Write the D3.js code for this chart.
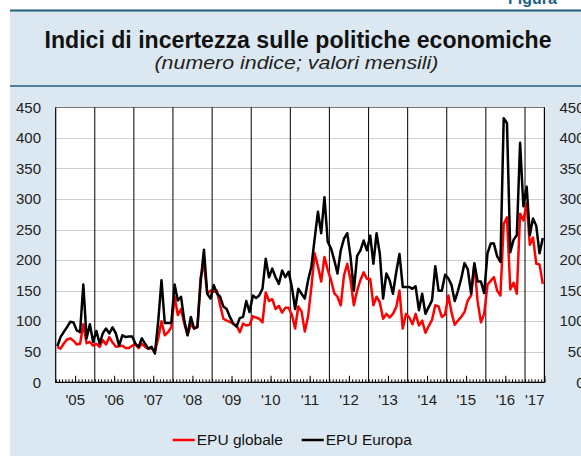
<!DOCTYPE html>
<html>
<head>
<meta charset="utf-8">
<script src="https://cdn.jsdelivr.net/npm/d3@7"></script>
<style>
  body { margin: 0; background: #fff; }
  svg { display: block; font-family: "Liberation Sans", Arial, sans-serif; }
</style>
</head>
<body>
<div id="chart"></div>
<script>
// year labels on the x axis
var yearLabels = ["'05", "'06", "'07", "'08", "'09", "'10", "'11", "'12", "'13", "'14", "'15", "'16", "'17"];

// monthly values, Jan 2005 - Jun 2017
var epuGlobale = [
  58, 55, 63, 70, 72, 68, 62, 63, 95, 64, 66, 60,
  63, 58, 69, 62, 74, 65, 58, 59, 60, 56, 56, 60,
  62, 56, 63, 58, 55, 56, 50, 72, 100, 77, 82, 90,
  140, 110, 120, 96, 77, 95, 88, 90, 172, 195, 145, 150,
  148, 150, 126, 104, 101, 99, 96, 93, 82, 96, 93, 94,
  108, 106, 104, 98, 147, 133, 136, 120, 125, 114, 122, 122,
  110, 88, 124, 116, 83, 108, 155, 211, 190, 165, 205, 184,
  167, 146, 140, 126, 175, 194, 167, 126, 150, 167, 180, 169,
  169, 126, 140, 131, 104, 112, 106, 112, 123, 150, 88, 112,
  106, 95, 112, 93, 101, 81, 92, 102, 126, 124, 107, 111,
  142, 114, 94, 101, 107, 115, 134, 142, 194, 132, 98, 112,
  160, 166, 172, 150, 142, 259, 270, 152, 163, 145, 276, 265,
  292, 225, 237, 194, 193, 161
];
var epuEuropa = [
  59, 74, 82, 90, 99, 98, 85, 82, 160, 72, 95, 66,
  84, 63, 80, 88, 80, 90, 80, 60, 77, 74, 75, 75,
  63, 58, 72, 63, 55, 58, 47, 100, 167, 97, 97, 97,
  160, 134, 140, 101, 77, 107, 88, 91, 165, 217, 145, 137,
  159, 145, 140, 124, 120, 107, 96, 91, 105, 107, 133, 115,
  142, 138, 142, 153, 202, 172, 186, 172, 161, 183, 172, 181,
  155, 120, 153, 145, 137, 167, 189, 235, 279, 244, 303, 230,
  219, 200, 178, 216, 235, 244, 205, 150, 207, 216, 232, 216,
  240, 194, 244, 210, 137, 178, 167, 145, 180, 210, 156, 156,
  156, 153, 157, 118, 145, 112, 123, 134, 190, 150, 150, 176,
  170, 159, 133, 150, 170, 195, 185, 145, 195, 165, 165, 146,
  211, 227, 227, 206, 197, 432, 424, 213, 233, 241, 392, 288,
  320, 241, 268, 256, 211, 236
];
var yTicks = [0, 50, 100, 150, 200, 250, 300, 350, 400, 450];

var W = 581, H = 456;
var plot = {left: 55.7, right: 544.4, top: 107.3, bottom: 382.3};
var startDate = new Date(2005, 0, 1), endDate = new Date(2017, 6, 1);

var svg = d3.select("#chart").append("svg").attr("width", W).attr("height", H);

// panel background and header
svg.append("rect").attr("x", 10).attr("y", 10).attr("width", W).attr("height", H)
  .attr("fill", "#dce8f1");
svg.append("line").attr("x1", 10).attr("x2", W).attr("y1", 10.5).attr("y2", 10.5)
  .attr("stroke", "#1f5f7e").attr("stroke-width", 2);
svg.append("line").attr("x1", 10).attr("x2", W).attr("y1", 86).attr("y2", 86)
  .attr("stroke", "#1f5f7e").attr("stroke-width", 1.5);
svg.append("text").attr("x", 508).attr("y", 3.5)
  .attr("font-size", 16).attr("font-weight", "bold").attr("fill", "#1b6088")
  .text("Figura");
svg.append("text").attr("x", 298).attr("y", 48).attr("text-anchor", "middle")
  .attr("font-size", 23).attr("font-weight", "bold").attr("fill", "#111")
  .attr("textLength", 507).attr("lengthAdjust", "spacingAndGlyphs")
  .text("Indici di incertezza sulle politiche economiche");
svg.append("text").attr("x", 296.5).attr("y", 69).attr("text-anchor", "middle")
  .attr("font-size", 19).attr("font-style", "italic").attr("fill", "#222")
  .attr("textLength", 284).attr("lengthAdjust", "spacingAndGlyphs")
  .text("(numero indice; valori mensili)");

// scales
var x = d3.scaleTime().domain([startDate, endDate]).range([plot.left, plot.right]);
var y = d3.scaleLinear().domain([0, 450]).range([plot.bottom, plot.top]);

var months = d3.timeMonth.range(startDate, endDate);
function midMonth(d) { return new Date((+d + +d3.timeMonth.offset(d, 1)) / 2); }

svg.append("rect").attr("x", plot.left).attr("y", plot.top)
  .attr("width", plot.right - plot.left).attr("height", plot.bottom - plot.top)
  .attr("fill", "#fff");

// horizontal grid
svg.append("g").selectAll("line").data(yTicks.slice(1)).enter().append("line")
  .attr("x1", plot.left).attr("x2", plot.right)
  .attr("y1", function(d) { return Math.round(y(d)) + 0.5; })
  .attr("y2", function(d) { return Math.round(y(d)) + 0.5; })
  .attr("stroke", function(d) { return d == 450 ? "#777" : "#cfcfcf"; })
  .attr("stroke-width", 1);

// year separators
svg.append("g").selectAll("line")
  .data(d3.timeYear.range(new Date(2006, 0, 1), endDate)).enter().append("line")
  .attr("x1", function(d) { return x(d); }).attr("x2", function(d) { return x(d); })
  .attr("y1", plot.top).attr("y2", plot.bottom)
  .attr("stroke", "#000").attr("stroke-width", 1);

// plot frame: left, right, bottom
svg.append("path")
  .attr("d", "M" + plot.left + "," + plot.top + "V" + plot.bottom + "H" + plot.right + "V" + plot.top)
  .attr("fill", "none").attr("stroke", "#000").attr("stroke-width", 1.2);

// monthly minor ticks, longer at mid year
svg.append("g").attr("transform", "translate(0," + plot.bottom + ")")
  .call(d3.axisBottom(x).ticks(d3.timeMonth.every(1)).tickSize(-3).tickFormat(""))
  .call(function(g) { g.select(".domain").remove(); g.selectAll("line").attr("stroke", "#000"); });
svg.append("g").attr("transform", "translate(0," + plot.bottom + ")")
  .call(d3.axisBottom(x).ticks(d3.timeMonth.filter(function(d) { return d.getMonth() == 6; }))
    .tickSize(-6.5).tickFormat(""))
  .call(function(g) { g.select(".domain").remove(); g.selectAll("line").attr("stroke", "#000"); });

// y labels, both sides
svg.append("g").selectAll("text").data(yTicks).enter().append("text")
  .attr("x", 41).attr("y", function(d) { return y(d); }).attr("dy", "0.35em")
  .attr("text-anchor", "end").attr("font-size", 15).attr("fill", "#222")
  .text(function(d) { return d; });
svg.append("g").selectAll("text").data(yTicks).enter().append("text")
  .attr("x", 584.5).attr("y", function(d) { return y(d); }).attr("dy", "0.35em")
  .attr("text-anchor", "end").attr("font-size", 15).attr("fill", "#222")
  .text(function(d) { return d; });

// year labels
svg.append("g").selectAll("text").data(yearLabels).enter().append("text")
  .attr("x", function(d, i) {
    var a = new Date(2005 + i, 0, 1), b = new Date(2006 + i, 0, 1);
    if (b > endDate) b = endDate;
    return (x(a) + x(b)) / 2;
  })
  .attr("y", 405).attr("text-anchor", "middle").attr("font-size", 15).attr("fill", "#222")
  .text(function(d) { return d; });

// series
var line = d3.line()
  .x(function(d, i) { return x(midMonth(months[i])); })
  .y(function(d) { return y(d); });

svg.append("path").datum(epuGlobale).attr("d", line)
  .attr("fill", "none").attr("stroke", "#ff0000").attr("stroke-width", 2.5)
  .attr("stroke-linejoin", "round");
svg.append("path").datum(epuEuropa).attr("d", line)
  .attr("fill", "none").attr("stroke", "#000").attr("stroke-width", 2.5)
  .attr("stroke-linejoin", "round");

// legend
var legend = [
  {name: "EPU globale", color: "#ff0000", x: 172.7},
  {name: "EPU Europa", color: "#000", x: 301.7}
];
var lg = svg.append("g").selectAll("g").data(legend).enter().append("g")
  .attr("transform", function(d) { return "translate(" + d.x + ",440)"; });
lg.append("line").attr("x1", 0).attr("x2", 22).attr("y1", 0).attr("y2", 0)
  .attr("stroke", function(d) { return d.color; }).attr("stroke-width", 2.5);
lg.append("text").attr("x", 24).attr("y", 0).attr("dy", "0.35em")
  .attr("font-size", 15.5).attr("fill", "#111")
  .text(function(d) { return d.name; });
</script>
</body>
</html>
